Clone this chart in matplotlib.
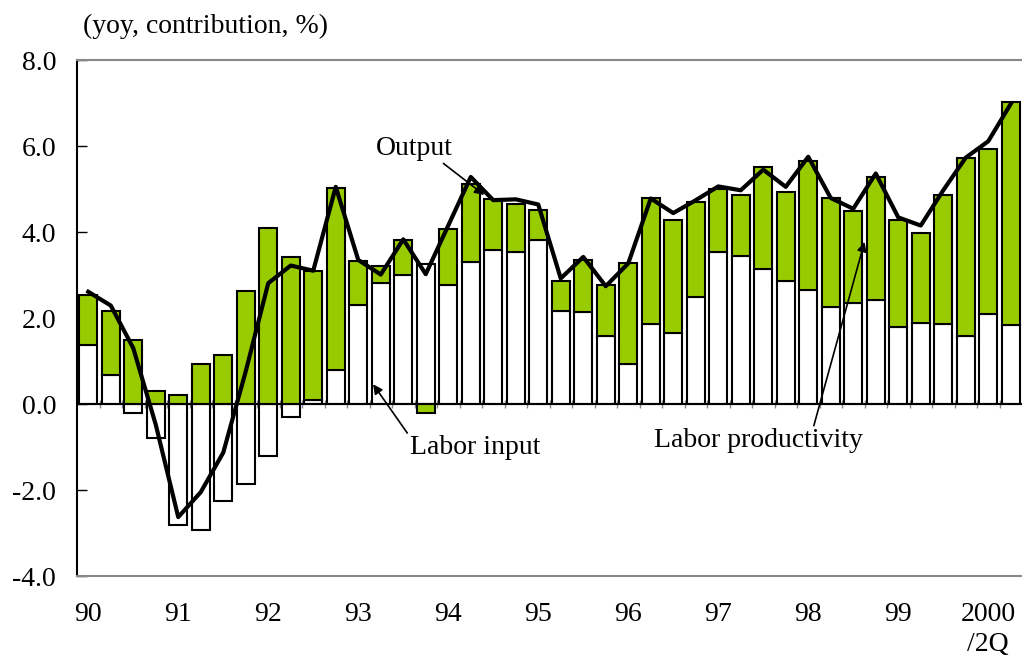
import numpy as np
import matplotlib
matplotlib.use("Agg")
import matplotlib.pyplot as plt

plt.rcParams['font.family'] = ['Liberation Serif', 'DejaVu Serif']

# quarterly, 1990Q1 - 2000Q2
years = ['90', '91', '92', '93', '94', '95', '96', '97', '98', '99', '2000\n/2Q']
labor_input = [1.37, 0.68, -0.21, -0.79,
               -2.81, -2.92, -2.26, -1.87,
               -1.21, -0.30, 0.10, 0.80,
               2.31, 2.81, 3.00, 3.26,
               2.76, 3.31, 3.57, 3.54,
               3.81, 2.16, 2.15, 1.58,
               0.92, 1.85, 1.64, 2.48,
               3.54, 3.44, 3.13, 2.85,
               2.65, 2.26, 2.35, 2.42,
               1.79, 1.88, 1.86, 1.58,
               2.10, 1.83]
labor_prod = [1.17, 1.49, 1.48, 0.31,
              0.21, 0.94, 1.15, 2.62,
              4.09, 3.42, 3.00, 4.22,
              1.02, 0.39, 0.81, -0.20,
              1.30, 1.81, 1.19, 1.10,
              0.71, 0.70, 1.19, 1.18,
              2.35, 2.93, 2.63, 2.21,
              1.46, 1.41, 2.37, 2.08,
              3.01, 2.53, 2.14, 2.87,
              2.48, 2.09, 2.99, 4.15,
              3.83, 5.19]
output = [2.61, 2.29, 1.30, -0.48,
          -2.63, -2.05, -1.13, 0.76,
          2.81, 3.22, 3.10, 5.05,
          3.35, 3.01, 3.83, 3.02,
          4.15, 5.28, 4.74, 4.76,
          4.64, 2.92, 3.42, 2.74,
          3.27, 4.78, 4.44, 4.74,
          5.06, 4.97, 5.45, 5.05,
          5.75, 4.79, 4.54, 5.36,
          4.34, 4.15, 4.97, 5.73,
          6.11, 6.98]

li = np.array(labor_input)
lp = np.array(labor_prod)
x = np.arange(len(li))
# green segment sits on top of white one when signs agree, otherwise starts at 0
bottom = np.where(lp >= 0, np.maximum(li, 0), np.minimum(li, 0))

fs = 20
fig = plt.figure(figsize=(10.22, 6.66), dpi=100)
ax = fig.add_axes([77 / 1022, 90 / 666, 945 / 1022, 516 / 666])

ax.bar(x, li, width=0.78, color='white', edgecolor='black', linewidth=1.5, zorder=2)
ax.bar(x, lp, bottom=bottom, width=0.78, color='#99CC00', edgecolor='black', linewidth=1.5, zorder=2)
ax.axhline(0, color='black', linewidth=1.5, zorder=3)
ax.plot(x[:-1] + 0.5, np.zeros(len(x) - 1), linestyle='none', marker='|',
        markersize=6, color='#888888', zorder=1)
ax.plot(x, output, color='black', linewidth=3, zorder=4)

ax.set_xlim(-0.5, len(x) - 0.5)
ax.set_ylim(-4, 8)
ax.set_yticks(np.arange(-4, 9, 2))
ax.set_yticklabels(['%.1f' % v for v in np.arange(-4, 9, 2)], fontsize=fs)
ax.set_xticks(x[::4])
ax.set_xticklabels(years, fontsize=fs, va='top', linespacing=1.22)
ax.tick_params(axis='x', length=0, pad=19)
ax.tick_params(axis='y', direction='in', length=7, width=1, pad=15)

for s in ['top', 'bottom']:
    ax.spines[s].set_color('#888888')
    ax.spines[s].set_linewidth(1.5)
ax.spines['left'].set_color('black')
ax.spines['left'].set_linewidth(1.5)
ax.spines['right'].set_visible(False)

fig.text(83 / 1022, 1 - 26 / 666, '(yoy, contribution, %)', fontsize=fs, va='center', ha='left')

ax.annotate('Output', xy=(17.6, 4.86), xytext=(14.5, 5.95), fontsize=fs, ha='center', va='center',
            arrowprops=dict(arrowstyle='-|>', color='black', lw=1.2, mutation_scale=14,
                            relpos=(0.83, 0.0), shrinkA=0, shrinkB=0))
ax.annotate('Labor input', xy=(12.66, 0.46), xytext=(17.2, -1.0), fontsize=fs, ha='center', va='center',
            arrowprops=dict(arrowstyle='-|>', color='black', lw=1.2, mutation_scale=14,
                            relpos=(0.0, 0.9), shrinkA=0, shrinkB=0))
ax.annotate('Labor productivity', xy=(34.5, 3.77), xytext=(29.8, -0.86), fontsize=fs, ha='center', va='center',
            arrowprops=dict(arrowstyle='-|>', color='black', lw=1.2, mutation_scale=14,
                            relpos=(0.76, 1.0), shrinkA=0, shrinkB=0))

fig.savefig('out.png', dpi=100)
